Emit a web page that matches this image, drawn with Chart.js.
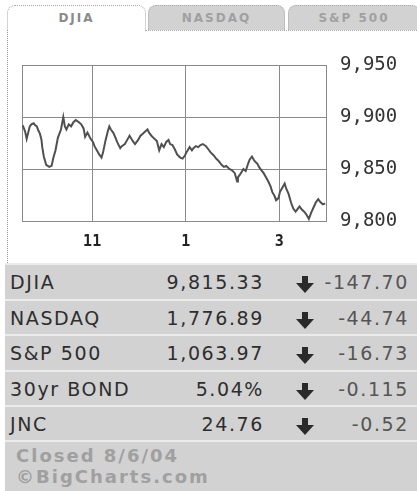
<!DOCTYPE html>
<html>
<head>
<meta charset="utf-8">
<script src="https://cdn.jsdelivr.net/npm/chart.js@4"></script>
<style>
  body { margin: 0; width: 417px; height: 491px; background: #fff; overflow: hidden; position: relative; font-family: "DejaVu Sans", Verdana, sans-serif; }
  .tab { position: absolute; top: 5px; height: 25px; line-height: 25px; text-align: center; font-size: 12px; font-weight: bold; letter-spacing: 2px; border: 1px dotted #aaa; border-bottom: none; border-radius: 8px 8px 0 0; box-sizing: border-box; }
  #tab1 { left: 7px; width: 139px; background: #fff; color: #8a8a8a; height: 26px; }
  #tab2 { left: 148px; width: 137px; background: #d2d2d2; color: #a0a0a0; }
  #tab3 { left: 288px; width: 132px; background: #d2d2d2; color: #a0a0a0; }
  #panel { position: absolute; left: 7px; top: 30px; width: 410px; height: 233px; border-left: 1px dotted #999; box-sizing: border-box; }
  #topLine { position: absolute; left: 146px; top: 30px; width: 271px; border-top: 1px dotted #aaa; }
  #chartBox { position: absolute; left: 0; top: 0; width: 409px; height: 232px; }
  #table { position: absolute; left: 5px; top: 263px; width: 412px; height: 228px; background: #d2d2d2; }
  .row { position: absolute; left: 0; width: 412px; height: 36px; border-top: 2px solid #ebebeb; box-sizing: border-box; font-size: 19px; letter-spacing: 1.6px; color: #2e2e2e; }
  .row span { position: absolute; top: 6px; }
  .lbl { left: 5px; }
  .val { right: 153px; }
  .arr { left: 290px; top: 10px !important; }
  .chg { right: 8px; color: #555; }
  #foot { position: absolute; left: 0; top: 177px; width: 412px; height: 51px; border-top: 2px solid #ebebeb; box-sizing: border-box; color: #a0a0a0; font-weight: bold; font-size: 18px; letter-spacing: 2px; line-height: 21px; padding: 3px 0 0 11px; }
</style>
</head>
<body>
<div class="tab" id="tab1">DJIA</div>
<div class="tab" id="tab2">NASDAQ</div>
<div class="tab" id="tab3">S&amp;P 500</div>
<div id="topLine"></div>
<div id="panel">
  <div id="chartBox"><canvas id="chart"></canvas></div>
</div>
<div id="table"></div>

<script>
// minutes after 9:30 open
const times = [1, 4, 6, 8, 10, 12, 15, 17, 19, 21, 23, 25, 26, 28, 31, 35, 38, 40, 43, 46, 50, 53, 55, 57, 60, 63, 66, 69, 73, 76, 79, 81, 84, 88, 91, 93, 96, 99, 102, 104, 107, 110, 112, 114, 117, 120, 122, 126, 128, 132, 135, 138, 142, 145, 149, 152, 155, 158, 161, 163, 166, 170, 173, 176, 179, 182, 185, 188, 190, 193, 196, 199, 203, 206, 209, 211, 215, 218, 220, 223, 226, 229, 232, 236, 239, 242, 246, 249, 252, 256, 259, 262, 266, 269, 273, 276, 277, 280, 284, 287, 290, 292, 295, 298, 302, 304, 307, 310, 313, 316, 319, 321, 324, 326, 329, 331, 334, 337, 339, 342, 345, 348, 351, 353, 356, 359, 362, 365, 368, 371, 374, 377, 380, 383, 386, 389];
const djia = [9892, 9886, 9879, 9885, 9891, 9893, 9894, 9892, 9891, 9887, 9884, 9878, 9871, 9862, 9854, 9852, 9853, 9860, 9868, 9880, 9888, 9900, 9891, 9888, 9893, 9891, 9895, 9897, 9895, 9893, 9889, 9881, 9885, 9879, 9876, 9872, 9868, 9864, 9861, 9866, 9877, 9886, 9891, 9888, 9885, 9880, 9876, 9870, 9872, 9874, 9878, 9882, 9877, 9874, 9878, 9882, 9884, 9886, 9888, 9885, 9882, 9879, 9877, 9868, 9874, 9871, 9876, 9878, 9874, 9873, 9869, 9864, 9861, 9860, 9863, 9866, 9871, 9868, 9870, 9872, 9871, 9873, 9874, 9872, 9869, 9866, 9863, 9860, 9858, 9854, 9852, 9853, 9850, 9849, 9846, 9838, 9842, 9845, 9850, 9848, 9855, 9859, 9862, 9858, 9855, 9852, 9849, 9846, 9842, 9838, 9833, 9828, 9824, 9820, 9822, 9828, 9832, 9836, 9831, 9826, 9818, 9812, 9809, 9811, 9814, 9811, 9809, 9806, 9802, 9808, 9813, 9818, 9821, 9818, 9816, 9817];
const xTicks = [90, 210, 330];
const xLabels = ['11', '1', '3'];
const yTicks = [9800, 9850, 9900, 9950];

const symbols = ['DJIA', 'NASDAQ', 'S&P 500', '30yr BOND', 'JNC'];
const lastValues = ['9,815.33', '1,776.89', '1,063.97', '5.04%', '24.76'];
const changes = ['-147.70', '-44.74', '-16.73', '-0.115', '-0.52'];

// quote rows below the chart
const table = document.getElementById('table');
const arrowSvg = '<svg width="20" height="17" viewBox="0 0 20 17"><path d="M7 0h6v7h6l-9 10-9-10h6z" fill="#2a2a2a"/></svg>';
symbols.forEach((sym, i) => {
    const row = document.createElement('div');
    row.className = 'row';
    row.style.top = (i * 35.5) + 'px';
    row.innerHTML = '<span class="lbl"></span><span class="val"></span><span class="arr">' + arrowSvg + '</span><span class="chg"></span>';
    row.querySelector('.lbl').textContent = sym;
    row.querySelector('.val').textContent = lastValues[i];
    row.querySelector('.chg').textContent = changes[i];
    table.appendChild(row);
});
const foot = document.createElement('div');
foot.id = 'foot';
foot.innerHTML = 'Closed 8/6/04<br>©BigCharts.com';
table.appendChild(foot);

const gridColor = '#8a8a8a';

new Chart(document.getElementById('chart'), {
    type: 'line',
    data: {
        datasets: [{
            data: times.map((t, i) => ({ x: t, y: djia[i] })),
            borderColor: '#505050',
            borderWidth: 2,
            pointRadius: 0,
            tension: 0
        }]
    },
    options: {
        responsive: true,
        maintainAspectRatio: false,
        animation: false,
        layout: { padding: { left: 14, top: 35, right: 0, bottom: 0 } },
        plugins: { legend: { display: false }, tooltip: { enabled: false } },
        scales: {
            x: {
                type: 'linear',
                min: 0,
                max: 390,
                afterBuildTicks: scale => { scale.ticks = xTicks.map(v => ({ value: v })); },
                afterFit: scale => { scale.height = 41; },
                ticks: {
                    autoSkip: false,
                    maxRotation: 0,
                    padding: 12,
                    color: '#222',
                    font: { family: 'DejaVu Sans Mono', size: 15, weight: 'bold' },
                    callback: (v) => xLabels[xTicks.indexOf(v)]
                },
                grid: { color: gridColor, drawTicks: false, lineWidth: 1 },
                border: { color: gridColor }
            },
            y: {
                position: 'right',
                min: 9800,
                max: 9950,
                afterBuildTicks: scale => { scale.ticks = yTicks.map(v => ({ value: v })); },
                afterFit: scale => { scale.width = 91; },
                ticks: {
                    padding: 14,
                    color: '#333',
                    font: { family: 'DejaVu Sans Mono', size: 19 },
                    callback: v => v.toLocaleString('en-US')
                },
                grid: { color: gridColor, drawTicks: false, lineWidth: 1 },
                border: { color: gridColor }
            }
        }
    },
    plugins: [{
        // box edges on left/top
        id: 'frame',
        beforeDatasetsDraw(chart) {
            const { ctx, chartArea: a } = chart;
            ctx.save();
            ctx.strokeStyle = gridColor;
            ctx.lineWidth = 1;
            ctx.beginPath();
            ctx.moveTo(a.left + 0.5, a.top);
            ctx.lineTo(a.left + 0.5, a.bottom);
            ctx.moveTo(a.left, a.top + 0.5);
            ctx.lineTo(a.right, a.top + 0.5);
            ctx.stroke();
            ctx.restore();
        }
    }]
});
</script>
</body>
</html>
